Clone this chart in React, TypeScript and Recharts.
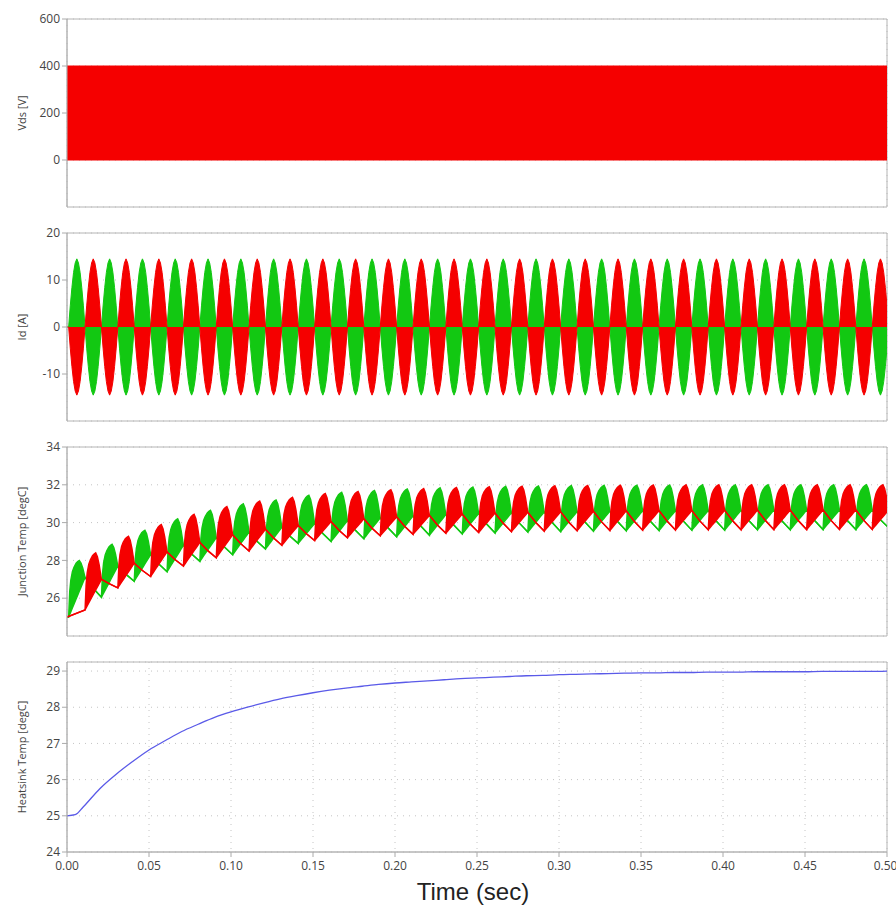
import React from 'react';
import { ComposedChart, Area, Line, XAxis, YAxis, CartesianGrid, ReferenceArea } from 'recharts';

// axis ticks
const timeTicks = [0, 0.05, 0.1, 0.15, 0.2, 0.25, 0.3, 0.35, 0.4, 0.45, 0.5];
const vdsTicks = [-200, 0, 200, 400, 600];
const idTicks = [-20, -10, 0, 10, 20];
const tjTicks = [24, 26, 28, 30, 32, 34];
const thsTicks = [24, 25, 26, 27, 28, 29];

// Vds: switching between 0 and 400 V all the way
const vdsTime = [0, 0.5];
const vdsLow = [0, 0];
const vdsHigh = [400, 400];

// Id: 50 Hz half-wave lobes (PWM envelope)
const idFirstCross = 0.001;
const idHalfPeriod = 0.01;
const idHalfCycles = 50;
const idPeak = 14.5;
const idLobe = [0, 0.31, 0.58, 0.8, 0.94, 1, 0.94, 0.8, 0.58, 0.31, 0];

// Junction temp per conduction cycle: valley at start, peak, value when conduction ends
const greenValley = [25.0, 26.05, 26.9, 27.4, 27.95, 28.3, 28.6, 28.9, 29.0, 29.15, 29.25, 29.33, 29.4, 29.45, 29.5, 29.52, 29.55, 29.57, 29.58, 29.6, 29.6, 29.62, 29.62, 29.63, 29.63];
const greenPeak = [28.0, 28.85, 29.6, 30.2, 30.65, 31.0, 31.2, 31.45, 31.6, 31.7, 31.78, 31.84, 31.88, 31.92, 31.94, 31.96, 31.97, 31.98, 31.99, 32.0, 32.0, 32.0, 32.0, 32.0, 32.0];
const greenEnd = [27.1, 27.7, 28.3, 28.8, 29.2, 29.5, 29.75, 29.95, 30.1, 30.25, 30.35, 30.42, 30.48, 30.52, 30.56, 30.58, 30.6, 30.62, 30.63, 30.64, 30.65, 30.66, 30.66, 30.67, 30.67];
const greenLast = 29.73;

const redValley = [25.38, 26.55, 27.15, 27.7, 28.14, 28.5, 28.8, 29.05, 29.2, 29.3, 29.38, 29.44, 29.48, 29.52, 29.55, 29.57, 29.58, 29.6, 29.61, 29.62, 29.62, 29.63, 29.63, 29.64, 29.64];
const redPeak = [28.4, 29.28, 29.9, 30.44, 30.85, 31.14, 31.34, 31.54, 31.65, 31.74, 31.8, 31.86, 31.9, 31.93, 31.95, 31.97, 31.98, 31.99, 32.0, 32.0, 32.0, 32.0, 32.0, 32.0, 32.0];
const redEnd = [27.0, 27.85, 28.45, 28.95, 29.35, 29.65, 29.85, 30.05, 30.2, 30.3, 30.38, 30.45, 30.5, 30.54, 30.57, 30.6, 30.62, 30.63, 30.64, 30.65, 30.66, 30.66, 30.67, 30.67, 30.67];
const redLast = 29.7;

// shape of one heating fin
const finRiseAt = [0, 0.1, 0.2, 0.35, 0.5, 0.7, 0.85, 1];
const finRise = [0, 0.45, 0.65, 0.8, 0.88, 0.95, 0.98, 1];
const finFallAt = [0.3, 0.6, 1];
const finFall = [0.15, 0.45, 1];
const finPeakAt = 0.65;

// Heatsink temp
const thsTime = [0, 0.005, 0.01, 0.02, 0.03, 0.04, 0.05, 0.06, 0.07, 0.08, 0.09, 0.1, 0.11, 0.12, 0.13, 0.14, 0.15, 0.16, 0.17, 0.18, 0.19, 0.2, 0.21, 0.22, 0.23, 0.24, 0.25, 0.26, 0.27, 0.28, 0.29, 0.3, 0.31, 0.32, 0.33, 0.34, 0.35, 0.36, 0.37, 0.38, 0.39, 0.4, 0.41, 0.42, 0.43, 0.44, 0.45, 0.46, 0.47, 0.48, 0.49, 0.5];
const thsValue = [25.0, 25.03, 25.25, 25.75, 26.15, 26.5, 26.82, 27.08, 27.33, 27.53, 27.72, 27.87, 28.0, 28.12, 28.23, 28.32, 28.4, 28.47, 28.53, 28.58, 28.63, 28.67, 28.7, 28.73, 28.76, 28.79, 28.81, 28.83, 28.85, 28.87, 28.88, 28.9, 28.91, 28.92, 28.93, 28.94, 28.95, 28.95, 28.96, 28.96, 28.97, 28.97, 28.97, 28.98, 28.98, 28.98, 28.98, 28.99, 28.99, 28.99, 28.99, 29.0];

const RED = '#f50000';
const GREEN = '#12c812';
const BLUE = '#5a5ae8';
const FONT = "'Open Sans', 'Noto Sans', sans-serif";

const vdsData = vdsTime.map((t, i) => ({ t, r: [vdsLow[i], vdsHigh[i]] }));

function idTrace(sign: number) {
  const pts: { t: number; v: number }[] = [{ t: 0, v: 0 }];
  for (let j = 0; j < idHalfCycles; j++) {
    const s = j % 2 === 0 ? sign : -sign;
    const t0 = idFirstCross + j * idHalfPeriod;
    idLobe.forEach((k, i) => {
      pts.push({ t: t0 + (idHalfPeriod * i) / (idLobe.length - 1), v: s * idPeak * k });
    });
  }
  return pts;
}

function tjTrace(first: number, valleys: number[], peaks: number[], ends: number[], last: number) {
  const pts: { t: number; r: number[] }[] = [{ t: 0, r: [25, 25] }];
  valleys.forEach((v, k) => {
    const ts = first + 0.02 * k;
    const p = peaks[k];
    const e = ends[k];
    const low = (f: number) => v + (e - v) * f;
    finRiseAt.forEach((u, i) => {
      const f = u * finPeakAt;
      pts.push({ t: ts + 0.01 * f, r: [low(f), v + (p - v) * finRise[i]] });
    });
    finFallAt.forEach((w, i) => {
      const f = finPeakAt + (1 - finPeakAt) * w;
      const hi = p + (e - p) * finFall[i];
      pts.push({ t: ts + 0.01 * f, r: [Math.min(low(f), hi), hi] });
    });
    const next = k + 1 < valleys.length ? valleys[k + 1] : last;
    const mid = e + (next - e) * 0.55;
    pts.push({ t: ts + 0.015, r: [mid, mid] });
    if (k + 1 === valleys.length) pts.push({ t: ts + 0.02, r: [next, next] });
  });
  return pts;
}

const idGreen = idTrace(1);
const idRed = idTrace(-1);
const tjGreen = tjTrace(0.001, greenValley, greenPeak, greenEnd, greenLast);
const tjRed = tjTrace(0.011, redValley, redPeak, redEnd, redLast);
const thsData = thsTime.map((t, i) => ({ t, v: thsValue[i] }));

const tickStyle = { fontSize: 12, fill: '#444', fontFamily: FONT };

interface PanelProps {
  top: number;
  height: number;
  mTop: number;
  mBottom: number;
  domain: [number, number];
  ticks: number[];
  label: string;
  bottomAxis?: boolean;
  children: React.ReactNode;
}

const Panel = ({ top, height, mTop, mBottom, domain, ticks, label, bottomAxis, children }: PanelProps) => (
  <div style={{ position: 'absolute', left: 0, top }}>
    <ComposedChart width={896} height={height} margin={{ top: mTop, right: 9, bottom: mBottom, left: 0 }}>
      <CartesianGrid stroke="#c4c4c4" strokeDasharray="1 5" />
      <XAxis
        dataKey="t"
        type="number"
        domain={[0, 0.5]}
        ticks={timeTicks}
        allowDataOverflow
        height={bottomAxis ? 57 : 0}
        tick={bottomAxis ? tickStyle : false}
        tickFormatter={(v: number) => v.toFixed(2)}
        tickLine={bottomAxis ? { stroke: '#aaa' } : false}
        tickSize={5}
        tickMargin={4}
        axisLine={{ stroke: '#b4b4b4' }}
      />
      <YAxis
        type="number"
        domain={domain}
        ticks={ticks}
        allowDataOverflow
        width={67}
        tick={tickStyle}
        tickLine={{ stroke: '#aaa' }}
        tickSize={5}
        tickMargin={2}
        axisLine={{ stroke: '#b4b4b4' }}
        label={{ value: label, angle: -90, position: 'insideLeft', offset: 22, style: { textAnchor: 'middle', fontSize: 11, fill: '#444', fontFamily: FONT } }}
      />
      <ReferenceArea x1={0} x2={0.5} y1={domain[0]} y2={domain[1]} fill="none" stroke="#b4b4b4" />
      {children}
    </ComposedChart>
  </div>
);

export default function App() {
  return (
    <div style={{ position: 'absolute', left: 0, top: 0, width: 896, height: 909, background: '#fff', overflow: 'hidden' }}>
      <Panel top={0} height={214} mTop={19} mBottom={7} domain={[-200, 600]} ticks={vdsTicks} label="Vds [V]">
        <Area data={vdsData} dataKey="r" type="linear" stroke={RED} strokeWidth={1} fill={RED} fillOpacity={1} dot={false} activeDot={false} isAnimationActive={false} />
      </Panel>
      <Panel top={214} height={214} mTop={19} mBottom={7} domain={[-20, 20]} ticks={idTicks} label="Id [A]">
        <Area data={idGreen} dataKey="v" type="linear" baseValue={0} stroke={GREEN} strokeWidth={1} fill={GREEN} fillOpacity={1} dot={false} activeDot={false} isAnimationActive={false} />
        <Area data={idRed} dataKey="v" type="linear" baseValue={0} stroke={RED} strokeWidth={1} fill={RED} fillOpacity={1} dot={false} activeDot={false} isAnimationActive={false} />
      </Panel>
      <Panel top={428} height={214} mTop={19} mBottom={6} domain={[24, 34]} ticks={tjTicks} label="Junction Temp [degC]">
        <Area data={tjGreen} dataKey="r" type="linear" stroke={GREEN} strokeWidth={1.4} fill={GREEN} fillOpacity={1} dot={false} activeDot={false} isAnimationActive={false} />
        <Area data={tjRed} dataKey="r" type="linear" stroke={RED} strokeWidth={1.4} fill={RED} fillOpacity={1} dot={false} activeDot={false} isAnimationActive={false} />
      </Panel>
      <Panel top={642} height={267} mTop={20} mBottom={0} domain={[24, 29.25]} ticks={thsTicks} label="Heatsink Temp [degC]" bottomAxis>
        <Line data={thsData} dataKey="v" type="monotone" stroke={BLUE} strokeWidth={1.3} dot={false} activeDot={false} isAnimationActive={false} />
      </Panel>
      <div style={{ position: 'absolute', left: 0, width: 946, top: 878, textAlign: 'center', fontSize: 24, fontFamily: "'Liberation Sans', Arial, sans-serif", color: '#222', lineHeight: '28px' }}>
        Time (sec)
      </div>
    </div>
  );
}
